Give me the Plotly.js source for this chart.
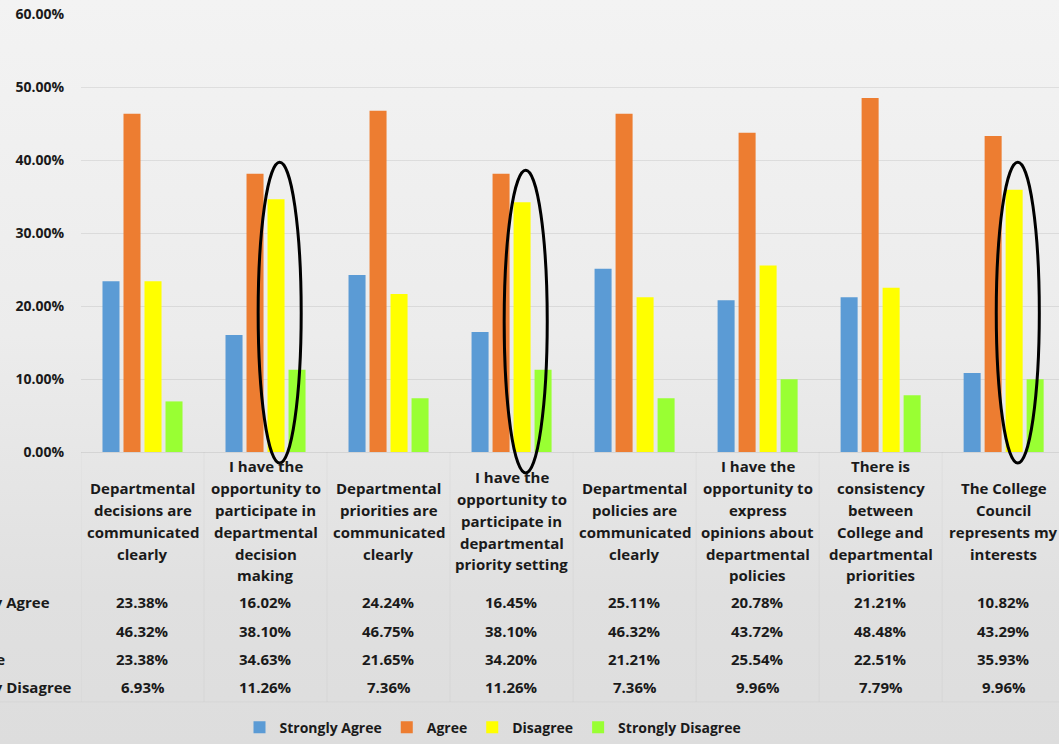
<!DOCTYPE html>
<html>
<head>
<meta charset="utf-8">
<script src="https://cdn.plot.ly/plotly-3.0.1.min.js"></script>
<style>
html,body{margin:0;padding:0;width:1059px;height:744px;overflow:hidden;}
#chart{width:1059px;height:744px;background:linear-gradient(to bottom,#f3f3f3 0%,#ececec 45%,#e0e0e0 80%,#dddddd 100%);}
</style>
</head>
<body>
<div id="chart"></div>
<script>
// ---- data ----
const categories = [
  "Departmental<br>decisions are<br>communicated<br>clearly",
  "I have the<br>opportunity to<br>participate in<br>departmental<br>decision<br>making",
  "Departmental<br>priorities are<br>communicated<br>clearly",
  "I have the<br>opportunity to<br>participate in<br>departmental<br>priority setting",
  "Departmental<br>policies are<br>communicated<br>clearly",
  "I have the<br>opportunity to<br>express<br>opinions about<br>departmental<br>policies",
  "There is<br>consistency<br>between<br>College and<br>departmental<br>priorities",
  "The College<br>Council<br>represents my<br>interests"
];
const seriesNames = ["Strongly Agree", "Agree", "Disagree", "Strongly Disagree"];
const stronglyAgree    = [23.38, 16.02, 24.24, 16.45, 25.11, 20.78, 21.21, 10.82];
const agree            = [46.32, 38.10, 46.75, 38.10, 46.32, 43.72, 48.48, 43.29];
const disagree         = [23.38, 34.63, 21.65, 34.20, 21.21, 25.54, 22.51, 35.93];
const stronglyDisagree = [6.93, 11.26, 7.36, 11.26, 7.36, 9.96, 7.79, 9.96];
const colors = ["#5b9bd5", "#ed7d31", "#ffff00", "#99ff33"];
const highlighted = [1, 3, 7]; // categories circled in the original

// ---- geometry helpers (pixel layout of the frame) ----
const W = 1059, H = 744;
const mL = 81, mT = 14, mB = 290;
const plotH = H - mT - mB; // 440
const plotW = W - mL;      // 978
const xMin = -0.5, xMax = 7.45;
const pyToPaper = Y => (H - mB - Y) / plotH;
const pxToPaper = X => (X - mL) / plotW;

const allSeries = [stronglyAgree, agree, disagree, stronglyDisagree];
const xIdx = categories.map((_, i) => i);
const font = {family: "Open Sans, sans-serif", size: 15, color: "#1a1a1a", weight: 700};
const tickFont = {family: "Open Sans, sans-serif", size: 14, color: "#1a1a1a", weight: 700};

const traces = allSeries.map((vals, s) => ({
  type: "bar",
  name: seriesNames[s],
  x: xIdx,
  y: vals.map(v => v / 100),
  marker: {color: colors[s]},
  hoverinfo: "skip"
}));

const annotations = [];
// category labels (multi-line, vertically centred)
categories.forEach((lab, i) => {
  const lines = lab.split("<br>");
  const n = lines.length;
  lines.forEach((ln, k) => {
    annotations.push({
      xref: "x", yref: "paper", x: i, y: pyToPaper(523 + (k - (n - 1) / 2) * 22),
      text: ln, showarrow: false, xanchor: "center", yanchor: "middle", font: font
    });
  });
});
// data table rows
allSeries.forEach((vals, r) => {
  const yP = pyToPaper(605 + r * 28.5);
  annotations.push({
    xref: "paper", yref: "paper", x: pxToPaper(-62), y: yP, text: seriesNames[r],
    showarrow: false, xanchor: "left", yanchor: "middle", font: font
  });
  vals.forEach((v, i) => {
    annotations.push({
      xref: "x", yref: "paper", x: i, y: yP, text: v.toFixed(2) + "%",
      showarrow: false, xanchor: "center", yanchor: "middle", font: font
    });
  });
});

// table lines (very faint, as in the original)
const shapes = [];
const lineCol = "rgba(0,0,0,0.035)";
for (let i = 0; i <= categories.length; i++) {
  shapes.push({type: "line", xref: "x", yref: "paper", x0: i - 0.5, x1: i - 0.5,
    y0: pyToPaper(454), y1: pyToPaper(705), line: {color: lineCol, width: 1}, layer: "below"});
}
shapes.push({type: "line", xref: "paper", yref: "paper", x0: pxToPaper(0), x1: 1,
  y0: pyToPaper(705), y1: pyToPaper(705), line: {color: lineCol, width: 1}, layer: "below"});

// ellipses around the Disagree bars of highlighted categories
highlighted.forEach(i => {
  shapes.push({type: "circle", xref: "x", yref: "paper",
    x0: i - 0.06, x1: i + 0.29,
    y0: pyToPaper(465 + (i === 3 ? 10 : 0)), y1: pyToPaper(163 + (i === 3 ? 8 : 0)),
    line: {color: "#000000", width: 3}, fillcolor: "rgba(0,0,0,0)", layer: "above"});
});

const layout = {
  width: W, height: H,
  margin: {l: mL, r: 0, t: mT, b: mB, pad: 0},
  paper_bgcolor: "rgba(0,0,0,0)",
  plot_bgcolor: "rgba(0,0,0,0)",
  barmode: "group",
  bargap: 0.317,
  bargroupgap: 0.19,
  font: font,
  showlegend: true,
  legend: {orientation: "h", xref: "paper", yref: "paper", x: pxToPaper(493), y: pyToPaper(731),
    xanchor: "center", yanchor: "middle", font: tickFont, bgcolor: "rgba(0,0,0,0)", itemwidth: 30,
    tracegroupgap: 0},
  xaxis: {range: [xMin, xMax], showticklabels: false, showgrid: false, zeroline: false,
    showline: false, ticks: "", fixedrange: true},
  yaxis: {range: [0, 0.6], dtick: 0.1, tick0: 0, tickformat: ".2%", showgrid: true,
    gridcolor: "rgba(0,0,0,0.08)", gridwidth: 1, zeroline: true, zerolinecolor: "rgba(0,0,0,0.08)", zerolinewidth: 1,
    showline: false, ticks: "", ticklabelstandoff: 16, tickfont: tickFont, fixedrange: true},
  annotations: annotations,
  shapes: shapes
};

Plotly.newPlot("chart", traces, layout, {displayModeBar: false, staticPlot: true});
</script>
</body>
</html>
